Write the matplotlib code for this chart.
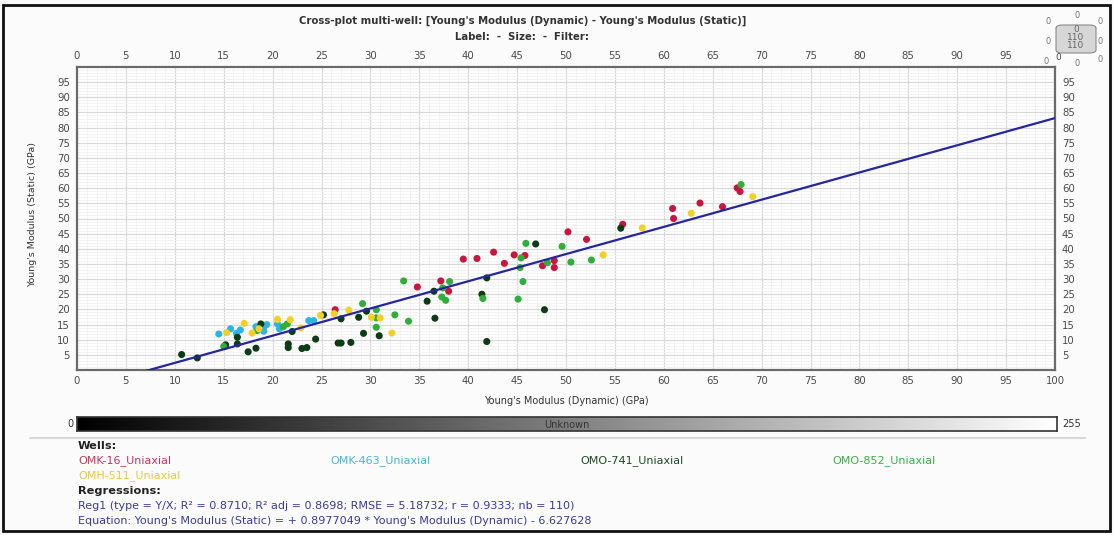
import numpy as np
import matplotlib
matplotlib.use("Agg")
import matplotlib.pyplot as plt
from matplotlib.patches import Rectangle, FancyBboxPatch
from matplotlib.lines import Line2D

plt.rcParams['font.family'] = ['DejaVu Sans']

W, H = 1114, 535

# ---- data: Young's modulus dynamic (x) vs static (y), GPa ----
omk16_x = [26.4, 34.8, 37.2, 38.0, 39.5, 40.9, 42.6, 43.7, 44.7, 45.8, 47.6,
           48.8, 48.8, 50.2, 52.1, 55.8, 60.9, 61.0, 63.7, 66.0, 67.5, 67.8]
omk16_y = [19.9, 27.4, 29.4, 26.0, 36.6, 36.8, 38.9, 35.2, 38.0, 37.8, 34.4,
           36.1, 33.8, 45.6, 43.1, 48.1, 53.3, 50.0, 55.1, 53.9, 60.1, 58.9]

omk463_x = [14.5, 15.7, 16.3, 16.7, 18.3, 19.1, 19.1, 19.4, 20.5, 20.7, 23.7, 24.2]
omk463_y = [11.9, 13.6, 12.1, 13.2, 14.3, 14.3, 12.8, 15.0, 15.2, 13.6, 16.3, 16.3]

omo741_x = [10.7, 12.3, 15.2, 16.4, 16.4, 17.5, 18.3, 18.8, 21.6, 21.6, 22.0,
            23.0, 23.5, 24.4, 25.2, 26.7, 27.0, 27.0, 28.0, 28.8, 29.3, 29.6,
            30.9, 35.8, 36.5, 36.6, 41.9, 41.4, 41.9, 46.9, 47.8, 55.6]
omo741_y = [5.1, 4.0, 8.3, 10.8, 8.6, 6.0, 7.2, 15.2, 8.6, 7.4, 12.7,
            7.1, 7.4, 10.2, 18.2, 8.9, 8.9, 16.9, 9.1, 17.4, 12.1, 19.4,
            11.3, 22.7, 26.0, 17.1, 30.4, 25.0, 9.4, 41.6, 19.9, 46.8]

omo852_x = [15.0, 18.4, 21.1, 21.5, 29.2, 30.6, 30.6, 30.6, 32.5, 33.4, 33.9,
            37.4, 38.1, 37.3, 37.7, 41.5, 45.1, 45.3, 45.4, 45.6, 45.9, 48.1,
            49.6, 50.5, 52.6, 67.9]
omo852_y = [7.8, 13.0, 14.3, 15.2, 21.9, 19.9, 17.2, 14.1, 18.2, 29.4, 16.1,
            27.1, 29.2, 24.1, 23.0, 23.6, 23.4, 33.8, 37.0, 29.2, 41.8, 35.4,
            40.8, 35.6, 36.3, 61.2]

omh511_x = [15.3, 17.1, 17.9, 18.6, 20.5, 21.8, 22.9, 24.9, 26.3, 27.8, 30.1,
            31.0, 32.2, 53.8, 57.8, 62.8, 69.1]
omh511_y = [12.3, 15.4, 12.2, 13.6, 16.7, 16.6, 13.9, 18.0, 18.6, 19.7, 17.4,
            17.2, 12.2, 38.0, 46.9, 51.7, 57.2]

wells = ["OMK-16_Uniaxial", "OMK-463_Uniaxial", "OMO-741_Uniaxial",
         "OMO-852_Uniaxial", "OMH-511_Uniaxial"]
well_x = [omk16_x, omk463_x, omo741_x, omo852_x, omh511_x]
well_y = [omk16_y, omk463_y, omo741_y, omo852_y, omh511_y]
well_colors = ["#c8173f", "#2cb5e4", "#0c3b14", "#2fae3a", "#f3d024"]
label_colors = ["#c2385a", "#45b6dc", "#1f4a22", "#3ab144", "#e9cb35"]

# regression statistics
slope = 0.8977049
intercept = -6.627628
r2, r2_adj, rmse, r_coef, nb = 0.8710, 0.8698, 5.18732, 0.9333, 110

x_ticks = list(range(0, 101, 5))
y_ticks = list(range(5, 96, 5))


def fx(px):
    return px / W


def fy(py):
    return 1 - py / H


fig = plt.figure(figsize=(W / 100, H / 100), dpi=100, facecolor="#fbfbfb")

# ---- main cross-plot ----
left, right, top, bottom = 77, 1055, 67, 370
ax = fig.add_axes([fx(left), fy(bottom), fx(right - left), (bottom - top) / H])
ax.set_facecolor("white")
ax.set_xlim(0, 100)
ax.set_ylim(0, 100)
ax.set_xticks(x_ticks)
ax.set_yticks(y_ticks)
ax.set_xticks(np.arange(0, 101, 1), minor=True)
ax.set_yticks(np.arange(0, 101, 1), minor=True)
ax.grid(which="minor", color="#f1f1f1", lw=0.6)
ax.grid(which="major", color="#d9d9d9", lw=0.9)
ax.set_axisbelow(True)
ax.tick_params(which="both", length=0, labelsize=7.3, labelcolor="#4a4a4a")
ax.tick_params(axis="x", top=True, labeltop=True, pad=4)
ax.tick_params(axis="y", right=True, labelright=True, pad=5)
# the size widget sits where the last top label would be
ax.xaxis.get_major_ticks()[-1].label2.set_visible(False)
for s in ax.spines.values():
    s.set_color("#6a6a6a")
    s.set_linewidth(1.6)

for xs, ys, c in zip(well_x, well_y, well_colors):
    ax.scatter(xs, ys, s=26, color=c, edgecolors="none", zorder=3)

xr = np.array([0.0, 100.0])
ax.plot(xr, slope * xr + intercept, color="#2525a0", lw=1.6, zorder=4)

fig.text(fx(33), fy(215), "Young's Modulus (Static) (GPa)", rotation=90,
         ha="center", va="center", fontsize=6.8, color="#333333")
fig.text(fx(566), fy(401), "Young's Modulus (Dynamic) (GPa)",
         ha="center", va="center", fontsize=7, color="#333333")

# ---- title ----
fig.text(fx(523), fy(21),
         "Cross-plot multi-well: [Young's Modulus (Dynamic) - Young's Modulus (Static)]",
         ha="center", va="center", fontsize=7.3, fontweight="bold", color="#333333")
fig.text(fx(522), fy(37), "Label:  -  Size:  -  Filter:",
         ha="center", va="center", fontsize=7.3, fontweight="bold", color="#333333")

# ---- size widget at top right ----
btn = FancyBboxPatch((fx(1056), fy(53)), fx(40), (53 - 25) / H,
                     boxstyle="round,pad=0.0,rounding_size=0.006",
                     transform=fig.transFigure, facecolor="#d6d6d6",
                     edgecolor="#8a8a8a", lw=0.8)
fig.patches.append(btn)
for px, py, t in [(1076, 29, "0"), (1076, 38, "110"), (1076, 46, "110")]:
    fig.text(fx(px), fy(py), t, ha="center", va="center", fontsize=6.5, color="#666666")
for px, py in [(1048, 21), (1077, 16), (1100, 21), (1048, 42), (1100, 42),
               (1046, 61), (1077, 63), (1100, 60)]:
    fig.text(fx(px), fy(py), "0", ha="center", va="center", fontsize=6, color="#777777")
fig.text(fx(1058), fy(58), "0", ha="center", va="center", fontsize=6.5, color="#444444")

# ---- colour scale bar ----
cax = fig.add_axes([fx(77), fy(431), fx(1057 - 77), 14 / H])
grad = np.linspace(0, 1, 512).reshape(1, -1)
cax.imshow(grad, aspect="auto", cmap="gray", extent=[0, 255, 0, 1])
cax.set_xticks([])
cax.set_yticks([])
for s in cax.spines.values():
    s.set_color("#333333")
    s.set_linewidth(1.2)
cax.text(127.5, 0.45, "Unknown", ha="center", va="center", fontsize=7, color="#333333")
fig.text(fx(70), fy(424), "0", ha="center", va="center", fontsize=7, color="#333333")
fig.text(fx(1062), fy(424), "255", ha="left", va="center", fontsize=7, color="#333333")

fig.add_artist(Line2D([fx(30), fx(1085)], [fy(438), fy(438)],
                      transform=fig.transFigure, color="#d0d0d0", lw=1.2))

# ---- wells legend ----
fig.text(fx(78), fy(446), "Wells:", ha="left", va="center", fontsize=8.2,
         fontweight="bold", color="#222222")
legend_pos = [(78, 461), (330, 461), (580, 461), (832, 461), (78, 476)]
for name, c, (px, py) in zip(wells, label_colors, legend_pos):
    fig.text(fx(px), fy(py), name, ha="left", va="center", fontsize=8, color=c)

# ---- regression summary ----
fig.text(fx(78), fy(491), "Regressions:", ha="left", va="center", fontsize=8.2,
         fontweight="bold", color="#222222")
fig.text(fx(78), fy(506),
         f"Reg1 (type = Y/X; R² = {r2:.4f}; R² adj = {r2_adj:.4f}; RMSE = {rmse:.5f}; "
         f"r = {r_coef:.4f}; nb = {nb})",
         ha="left", va="center", fontsize=8, color="#3b3b9a")
fig.text(fx(78), fy(521),
         f"Equation: Young's Modulus (Static) = + {slope:.7f} * Young's Modulus (Dynamic) - {abs(intercept):.6f}",
         ha="left", va="center", fontsize=8, color="#3b3b9a")

# ---- outer frame ----
fig.patches.append(Rectangle((fx(3), fy(531)), fx(1107), (531 - 5) / H,
                             transform=fig.transFigure, fill=False,
                             edgecolor="#111111", lw=2))

fig.savefig("out.png", dpi=100, facecolor=fig.get_facecolor())
